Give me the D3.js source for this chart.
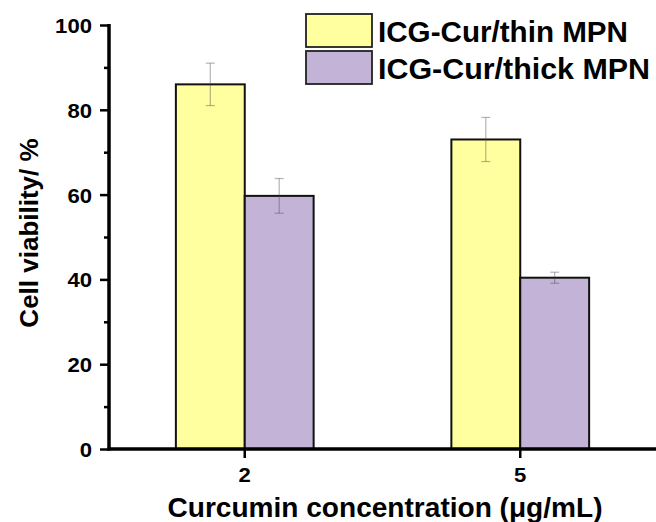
<!DOCTYPE html>
<html><head><meta charset="utf-8">
<script src="https://cdn.jsdelivr.net/npm/d3@7"></script>
<style>body{margin:0;background:#fff}svg{display:block}text{font-family:"Liberation Sans",Arial,sans-serif;font-weight:bold;fill:#000}</style>
</head><body>
<script>
const categories = ["2", "5"];
const seriesNames = ["ICG-Cur/thin MPN", "ICG-Cur/thick MPN"];
const thinValues = [86.0, 73.0];
const thinErrors = [5.0, 5.2];
const thickValues = [59.7, 40.4];
const thickErrors = [4.1, 1.3];
const yTicks = [0, 20, 40, 60, 80, 100];
const yMinorTicks = [10, 30, 50, 70, 90];
const colors = ["#FFFFA0", "#C3B3D7"];

const W = 656, H = 522;
const FONT = '"Liberation Sans",Arial,sans-serif';
const svg = d3.select("body").append("svg").attr("width", W).attr("height", H);
const x = d3.scaleBand().domain(categories).range([107, 658]).padding(0);
const y = d3.scaleLinear().domain([0, 100]).range([449, 25]);
const barW = x.bandwidth() * 0.25;

const series = [
  {name: seriesNames[0], values: thinValues, errs: thinErrors, color: colors[0], off: -1, len: 250},
  {name: seriesNames[1], values: thickValues, errs: thickErrors, color: colors[1], off: 0, len: 272}
];

// bars
series.forEach(s => {
  svg.append("g").selectAll("rect").data(categories).join("rect")
    .attr("x", (c) => x(c) + x.bandwidth()/2 + s.off*barW)
    .attr("y", (c,i) => y(s.values[i]))
    .attr("width", barW)
    .attr("height", (c,i) => y(0) - y(s.values[i]))
    .attr("fill", s.color).attr("stroke", "#111").attr("stroke-width", 2);
});
// error bars
series.forEach(s => {
  categories.forEach((c, i) => {
    const cx = x(c) + x.bandwidth()/2 + s.off*barW + barW/2;
    const top = y(s.values[i] + s.errs[i]), bot = y(s.values[i] - s.errs[i]);
    const g = svg.append("g").attr("stroke", "#444").attr("stroke-opacity", 0.4).attr("stroke-width", 1.2);
    g.append("line").attr("x1", cx).attr("x2", cx).attr("y1", top).attr("y2", bot);
    g.append("line").attr("x1", cx-4.5).attr("x2", cx+4.5).attr("y1", top).attr("y2", top);
    g.append("line").attr("x1", cx-4.5).attr("x2", cx+4.5).attr("y1", bot).attr("y2", bot);
  });
});

// y axis
const yAxis = d3.axisLeft(y).tickValues(yTicks).tickSize(9).tickPadding(8);
const gy = svg.append("g").attr("transform", "translate(109,0)").call(yAxis)
  .attr("font-size", 21).attr("font-family", FONT).attr("font-weight", "bold");
gy.select(".domain").attr("stroke", "#000").attr("stroke-width", 3.5).attr("d", `M0,${y(100)-1}V${y(0)+1.5}`);
gy.selectAll(".tick line").attr("stroke", "#000").attr("stroke-width", 2.5);
gy.selectAll(".tick text").attr("fill", "#000").attr("dy", "0.36em")
  .style("font-size", "21px")
  .attr("textLength", d => String(d).length * 12.3).attr("lengthAdjust", "spacingAndGlyphs");
const gym = svg.append("g").attr("transform", "translate(109,0)").call(d3.axisLeft(y).tickValues(yMinorTicks).tickSize(5).tickFormat(""));
gym.select(".domain").remove();
gym.selectAll(".tick line").attr("stroke", "#000").attr("stroke-width", 2.5);

// x axis
const xAxis = d3.axisBottom(x).tickSize(9).tickPadding(6);
const gx = svg.append("g").attr("transform", `translate(0,${y(0)})`).call(xAxis)
  .attr("font-size", 21).attr("font-family", FONT).attr("font-weight", "bold");
gx.select(".domain").attr("stroke", "#000").attr("stroke-width", 3.5).attr("d", "M107.5,0H656");
gx.selectAll(".tick line").attr("stroke", "#000").attr("stroke-width", 2.5);
gx.selectAll(".tick text").attr("fill", "#000").attr("y", 18).attr("dy", "0.71em")
  .style("font-size", "21px")
  .attr("textLength", d => String(d).length * 12.3).attr("lengthAdjust", "spacingAndGlyphs");

// axis titles
svg.append("text").attr("x", 385).attr("y", 517).attr("text-anchor", "middle")
  .style("font-size", "28px").attr("textLength", 435).attr("lengthAdjust", "spacingAndGlyphs")
  .text("Curcumin concentration (μg/mL)");
svg.append("text").attr("transform", "translate(38,233) rotate(-90)").attr("text-anchor", "middle")
  .style("font-size", "26px").text("Cell viability/ %");

// legend
const lg = svg.append("g");
series.forEach((s, i) => {
  const yy = 14 + i * 37;
  lg.append("rect").attr("x", 306).attr("y", yy).attr("width", 66).attr("height", 33)
    .attr("fill", s.color).attr("stroke", "#222").attr("stroke-width", 1.8);
  lg.append("text").attr("x", 378).attr("y", yy + 27.5).style("font-size", "29px")
    .attr("textLength", s.len).attr("lengthAdjust", "spacingAndGlyphs").text(s.name);
});
</script>
</body></html>
